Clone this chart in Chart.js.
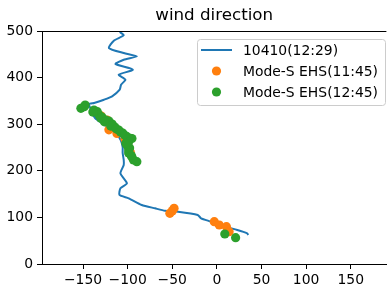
<!DOCTYPE html>
<html lang="en">
<head>
  <meta charset="UTF-8" />
  <title>wind direction</title>
  <script src="https://cdn.jsdelivr.net/npm/chart.js"></script>
  <style>
    html, body { margin: 0; padding: 0; background: #fff; }
    canvas { display: block; }
  </style>
</head>
<body>
  <canvas id="chart" width="391" height="294"></canvas>

  <script>
    const xTicks = [-150, -100, -50, 0, 50, 100, 150];
    const yTicks = [0, 100, 200, 300, 400, 500];

    // radiosonde 10410 (12:29) - direction vs height
    const sondeX = [-108.9, -104.4, -115.5, -121.0, -104.4, -89.7, -104.4, -113.6, -94.1, -110.0,
                    -102.5, -107.4, -108.9, -117.4, -126.5, -137.6, -143.2, -141.0, -136.5, -128.8,
                    -121.0, -113.3, -107.8, -105.6, -105.6, -104.4, -104.4, -108.1, -100.8, -108.1,
                    -109.2, -98.9, -84.2, -69.3, -58.2, -43.5, -21.4, -17.7, -6.6, 8.2, 22.9, 34.0, 35.1];
    const sondeY = [497.9, 490.8, 479.2, 463.5, 452.8, 445.7, 438.4, 429.2, 417.0, 406.2,
                    395.5, 384.8, 374.0, 359.9, 352.6, 345.5, 343.3, 330.5, 313.3, 302.6,
                    291.8, 281.1, 266.1, 251.1, 238.2, 223.2, 212.4, 194.6, 173.2, 162.4,
                    148.1, 141.0, 126.6, 119.5, 114.4, 112.2, 105.2, 98.1, 90.8, 80.0, 73.0, 65.9, 62.2];

    // Mode-S EHS 11:45
    const ehs1145X = [-130, -123, -119, -121, -112, -103, -100, -97, -52.7, -50, -48, -2.9, 2.7, 10.7, 13.7];
    const ehs1145Y = [318, 309, 295, 288, 280, 268, 255, 240, 108.8, 114, 119.5, 90.8, 83.7, 80, 69.3];

    // Mode-S EHS 12:45
    const ehs1245X = [-152.4, -148.7, -147.6, -137.7, -134, -132.1, -128.8, -124.7, -121, -117.4,
                      -114.4, -110, -105.6, -100.8, -97, -95.2, -100.8, -97.8, -98.9, -98.9,
                      -95.2, -93.4, -89.7, -139, -130, -126, -119, -113, -108, -103,
                      -99, -102, -96, 8.9, 21];
    const ehs1245Y = [334.1, 337.6, 341.2, 330.5, 326.8, 319.7, 315.5, 309, 306.9, 300.4,
                      294, 287.6, 281.1, 273.2, 269.7, 269.3, 255.4, 249, 244.6, 238.2,
                      229.6, 223.2, 219.5, 326, 313, 305, 296, 290, 283, 276,
                      262, 259, 233, 64.4, 56.4];

    const seriesLabels = ['10410(12:29)', 'Mode-S EHS(11:45)', 'Mode-S EHS(12:45)'];
    const colors = ['#1f77b4', '#ff7f0e', '#2ca02c'];
    const FONT = 'DejaVu Sans';

    const toPts = (xs, ys) => xs.map((x, i) => ({ x: x, y: ys[i] }));
    const fmt = v => (v < 0 ? '\u2212' + Math.abs(v) : String(v));

    // title, top spine, legend box (matplotlib style)
    const decor = {
      id: 'decor',
      afterDraw(chart) {
        const ctx = chart.ctx;
        const a = chart.chartArea;
        ctx.save();

        ctx.strokeStyle = '#000';
        ctx.lineWidth = 1;
        ctx.beginPath();
        ctx.moveTo(a.left, a.top + 0.5);
        ctx.lineTo(a.right, a.top + 0.5);
        ctx.stroke();

        ctx.fillStyle = '#000';
        ctx.font = '16.7px "' + FONT + '"';
        ctx.textAlign = 'center';
        ctx.textBaseline = 'middle';
        ctx.fillText('wind direction', (a.left + a.right) / 2, 16);

        // legend
        const bx = 197, by = 39, bw = 188, bh = 66, r = 3;
        ctx.beginPath();
        ctx.roundRect(bx + 0.5, by + 0.5, bw, bh, r);
        ctx.fillStyle = 'rgba(255,255,255,0.8)';
        ctx.fill();
        ctx.strokeStyle = '#cccccc';
        ctx.stroke();

        const rows = [50, 71, 92];
        ctx.font = '13.9px "' + FONT + '"';
        ctx.textAlign = 'left';
        rows.forEach((ry, i) => {
          if (i === 0) {
            ctx.strokeStyle = colors[0];
            ctx.lineWidth = 2;
            ctx.beginPath();
            ctx.moveTo(201, ry);
            ctx.lineTo(232, ry);
            ctx.stroke();
          } else {
            ctx.fillStyle = colors[i];
            ctx.beginPath();
            ctx.arc(216.5, ry, 4.6, 0, Math.PI * 2);
            ctx.fill();
          }
          ctx.fillStyle = '#000';
          ctx.fillText(seriesLabels[i], 243, ry + 1);
        });
        ctx.restore();
      }
    };

    const axisCommon = {
      type: 'linear',
      grid: { drawOnChartArea: false, drawTicks: true, tickLength: 5, tickColor: '#000', lineWidth: 1 },
      border: { display: true, color: '#000', width: 1 },
      ticks: { color: '#000', font: { family: FONT, size: 13.9 }, callback: fmt }
    };

    new Chart(document.getElementById('chart'), {
      type: 'scatter',
      data: {
        datasets: [
          { label: seriesLabels[0], data: toPts(sondeX, sondeY), showLine: true, borderColor: colors[0],
            borderWidth: 2, pointRadius: 0, tension: 0.2, order: 3 },
          { label: seriesLabels[1], data: toPts(ehs1145X, ehs1145Y), backgroundColor: colors[1],
            borderWidth: 0, pointRadius: 4.6, order: 2 },
          { label: seriesLabels[2], data: toPts(ehs1245X, ehs1245Y), backgroundColor: colors[2],
            borderWidth: 0, pointRadius: 4.6, order: 1 }
        ]
      },
      options: {
        responsive: false,
        animation: false,
        devicePixelRatio: 1,
        layout: { padding: { top: 31, right: 0, left: 0, bottom: 0 } },
        plugins: { legend: { display: false }, title: { display: false }, tooltip: { enabled: false } },
        scales: {
          x: Object.assign({}, axisCommon, {
            min: -196, max: 190,
            ticks: Object.assign({}, axisCommon.ticks, { padding: 3, maxRotation: 0 }),
            afterBuildTicks: s => { s.ticks = xTicks.map(v => ({ value: v })); },
            afterFit: s => { s.height = 30; }
          }),
          y: Object.assign({}, axisCommon, {
            min: 0, max: 500,
            ticks: Object.assign({}, axisCommon.ticks, { padding: 4 }),
            afterBuildTicks: s => { s.ticks = yTicks.map(v => ({ value: v })); },
            afterFit: s => { s.width = 42; }
          })
        }
      },
      plugins: [decor]
    });
  </script>
</body>
</html>
